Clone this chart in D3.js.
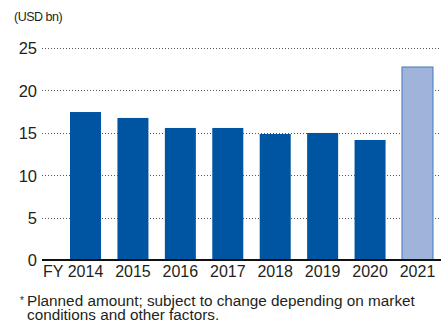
<!DOCTYPE html>
<html>
<head>
<meta charset="utf-8">
<script src="https://cdn.jsdelivr.net/npm/d3@7"></script>
<style>
  body { margin: 0; background: #fff; }
  text { font-family: "Liberation Sans", Arial, sans-serif; fill: #231f20; }
</style>
</head>
<body>
<div id="chart"></div>
<script>
// data
var years = ["2014", "2015", "2016", "2017", "2018", "2019", "2020", "2021"];
var values = [17.45, 16.75, 15.57, 15.57, 14.86, 14.98, 14.15, 22.76];
var planned = [false, false, false, false, false, false, false, true];
var yTicks = [0, 5, 10, 15, 20, 25];

var width = 441, height = 322;

var svg = d3.select("#chart")
  .append("svg")
  .attr("width", width)
  .attr("height", height);

var x = d3.scaleBand()
  .domain(years)
  .range([61.8, 441.2])
  .paddingInner(0.346)
  .paddingOuter(0.173);

var y = d3.scaleLinear()
  .domain([0, 25])
  .range([260, 48]);

// gridlines
svg.append("g")
  .selectAll("line")
  .data(yTicks.filter(d => d > 0))
  .enter().append("line")
  .attr("x1", 42)
  .attr("x2", 441)
  .attr("y1", d => Math.round(y(d)) + 0.5)
  .attr("y2", d => Math.round(y(d)) + 0.5)
  .attr("stroke", "#555")
  .attr("stroke-width", 1)
  .attr("stroke-dasharray", "1,2");

// bars
svg.append("g")
  .selectAll("rect")
  .data(years)
  .enter().append("rect")
  .attr("x", d => x(d))
  .attr("y", (d, i) => y(values[i]))
  .attr("width", x.bandwidth())
  .attr("height", (d, i) => y(0) - y(values[i]))
  .attr("fill", (d, i) => planned[i] ? "#a0b3da" : "#0055a2")
  .attr("stroke", (d, i) => planned[i] ? "#3d7bbf" : "none")
  .attr("stroke-width", 1);

// baseline
svg.append("line")
  .attr("x1", 42)
  .attr("x2", 441)
  .attr("y1", y(0))
  .attr("y2", y(0))
  .attr("stroke", "#111")
  .attr("stroke-width", 2);

// y axis labels
var yAxis = svg.append("g")
  .attr("transform", "translate(37,0)")
  .call(d3.axisLeft(y).tickValues(yTicks).tickSize(0).tickPadding(0));
yAxis.select(".domain").remove();
yAxis.selectAll("text")
  .style("font-size", "16.5px")
  .attr("dy", "0.36em");

// x axis labels
var xAxis = svg.append("g")
  .attr("transform", "translate(0,266)")
  .call(d3.axisBottom(x).tickSize(0).tickPadding(0));
xAxis.select(".domain").remove();
xAxis.selectAll("text")
  .style("font-size", "16px")
  .attr("dy", "0.71em");

svg.append("text")
  .attr("x", x("2014") + x.bandwidth() / 2 - 22)
  .attr("y", 266)
  .attr("dy", "0.71em")
  .attr("text-anchor", "end")
  .style("font-size", "16px")
  .text("FY");

// unit label
svg.append("text")
  .attr("x", 14)
  .attr("y", 21)
  .style("font-size", "12.5px")
  .style("letter-spacing", "-0.5px")
  .text("(USD bn)");

// footnote
svg.append("text")
  .attr("x", 20)
  .attr("y", 304)
  .style("font-size", "10px")
  .text("*");
svg.append("text")
  .attr("x", 27)
  .attr("y", 305.5)
  .style("font-size", "15.3px")
  .text("Planned amount; subject to change depending on market");
svg.append("text")
  .attr("x", 27)
  .attr("y", 320)
  .style("font-size", "15.3px")
  .text("conditions and other factors.");
</script>
</body>
</html>
